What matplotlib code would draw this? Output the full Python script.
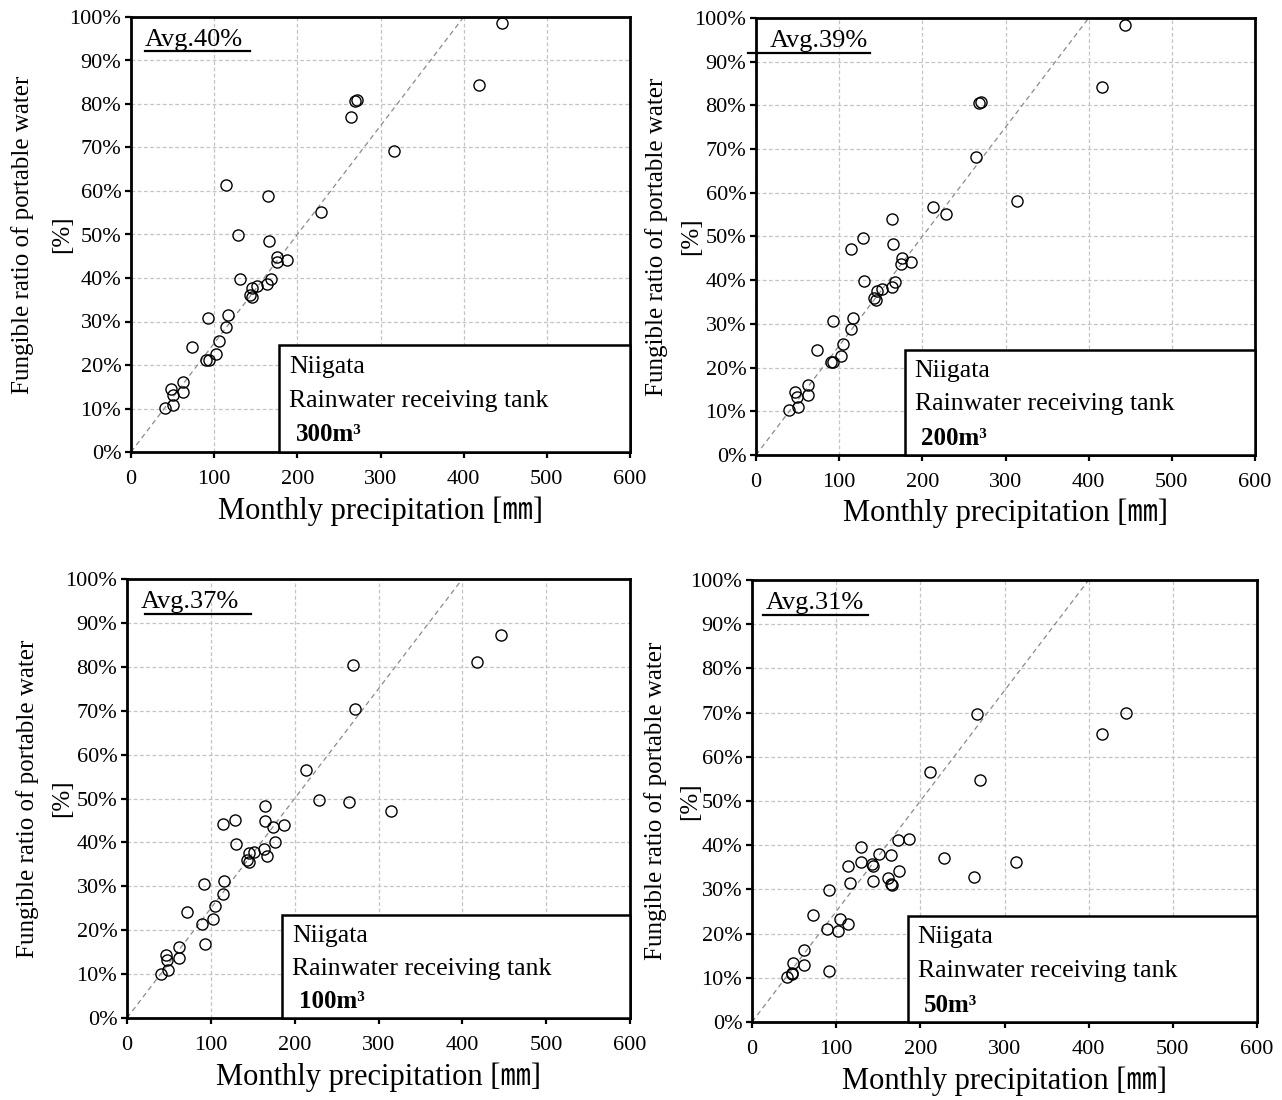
import matplotlib
matplotlib.use("Agg")
import matplotlib.pyplot as plt
from matplotlib.patches import Rectangle
from matplotlib.lines import Line2D
from matplotlib.ticker import FuncFormatter

plt.rcParams['font.family'] = ['Liberation Serif', 'Noto Sans CJK JP']

# Monthly precipitation [mm] and fungible ratio [%] for each tank size
precip_300 = [446, 418, 272, 269, 265, 316, 114, 165, 229, 129, 166, 176, 175, 187,
              131, 168, 164, 152, 146, 143, 146, 92, 117, 114, 106, 73, 102, 90, 94,
              63, 63, 48, 50, 50, 41]
ratio_300 = [98.6, 84.4, 81.0, 80.7, 77.0, 69.1, 61.4, 58.8, 55.2, 49.8, 48.5, 44.9, 43.7, 44.2,
             39.8, 39.7, 38.6, 38.1, 37.8, 36.2, 35.7, 30.7, 31.5, 28.8, 25.5, 24.2, 22.6, 21.2, 21.2,
             16.1, 13.8, 14.4, 13.1, 10.8, 10.1]

precip_200 = [264, 213, 229, 164, 129, 114, 165, 176, 174, 186, 130, 167, 163, 151, 145,
              142, 144, 92, 117, 114, 105, 73, 102, 90, 93, 62, 62, 47, 49, 50, 40,
              444, 416, 270, 268, 314]
ratio_200 = [68.1, 56.7, 55.1, 54.0, 49.7, 47.2, 48.3, 45.0, 43.7, 44.2, 39.8, 39.5, 38.5, 38.0, 37.6,
             36.0, 35.5, 30.6, 31.3, 28.9, 25.5, 24.1, 22.6, 21.2, 21.2, 16.1, 13.8, 14.4, 13.3, 10.9, 10.2,
             98.4, 84.1, 80.7, 80.5, 58.1]

precip_100 = [213, 229, 265, 165, 129, 114, 165, 174, 187, 130, 176, 163, 167, 151, 145,
              143, 145, 92, 116, 114, 105, 72, 102, 89, 93, 62, 62, 47, 48, 49, 40,
              446, 418, 269, 272, 315]
ratio_100 = [56.6, 49.6, 49.3, 48.2, 45.2, 44.2, 44.9, 43.6, 44.0, 39.7, 40.2, 38.6, 36.8, 37.9, 37.6,
             35.9, 35.5, 30.6, 31.3, 28.3, 25.5, 24.1, 22.6, 21.3, 16.8, 16.2, 13.7, 14.4, 13.3, 11.0, 10.1,
             87.3, 81.2, 80.5, 70.5, 47.2]

precip_50 = [212, 271, 174, 186, 130, 151, 165, 228, 114, 129, 142, 144, 175, 264, 144,
             162, 165, 166, 116, 92, 73, 105, 114, 89, 102, 62, 62, 49, 48, 47, 41, 92,
             267, 444, 416, 314]
ratio_50 = [56.6, 54.7, 41.2, 41.5, 39.7, 38.0, 37.8, 37.2, 35.3, 36.2, 35.7, 35.4, 34.1, 32.9, 31.9,
            32.5, 31.2, 30.9, 31.4, 29.8, 24.1, 23.4, 22.1, 21.1, 20.6, 16.3, 12.8, 13.4, 11.1, 10.8, 10.2, 11.6,
            69.7, 69.9, 65.1, 36.2]

tank_labels = ['300m³', '200m³', '100m³', '50m³']
avg_labels = ['Avg.40%', 'Avg.39%', 'Avg.37%', 'Avg.31%']
site_label = 'Niigata'
tank_title = 'Rainwater receiving tank'
x_title = 'Monthly precipitation [㎜]'
y_title = 'Fungible ratio of portable water'
y_unit = '[%]'
x_ticks = [0, 100, 200, 300, 400, 500, 600]
y_ticks = [0, 10, 20, 30, 40, 50, 60, 70, 80, 90, 100]

series = [(precip_300, ratio_300), (precip_200, ratio_200),
          (precip_100, ratio_100), (precip_50, ratio_50)]

W, H = 1282, 1100
fig = plt.figure(figsize=(W / 100, H / 100), dpi=100)

# panel frames in pixels: left, right, top, bottom
frames = [(131, 630, 17, 452), (756, 1255, 18, 455),
          (127, 630, 579, 1018), (752, 1257, 580, 1022)]
# label-box left edge / top edge in axes fraction
boxes = [(0.297, 0.245), (0.298, 0.241), (0.309, 0.234), (0.308, 0.240)]
# underline extents (axes fraction) for the average label
underlines = [(0.028, 0.238), (-0.016, 0.228), (0.036, 0.246), (0.022, 0.230)]
# horizontal pixel centres of the two y-title lines
ytitle_x = [(23, 62), (657, 691), (28, 62), (656, 690)]


def rect(l, r, t, b):
    return [l / W, 1 - b / H, (r - l) / W, (b - t) / H]


for i, ((x, y), (l, r, t, b)) in enumerate(zip(series, frames)):
    ax = fig.add_axes(rect(l, r, t, b))
    ax.set_xlim(0, 600)
    ax.set_ylim(0, 100)
    ax.set_xticks(x_ticks)
    ax.set_yticks(y_ticks)
    ax.yaxis.set_major_formatter(FuncFormatter(lambda v, p: f"{v:.0f}%"))
    ax.tick_params(axis='both', direction='out', length=4, width=1.6,
                   labelsize=16, colors='black')
    ax.tick_params(axis='y', pad=3)
    ax.tick_params(axis='x', pad=9)
    for s in ax.spines.values():
        s.set_linewidth(2.0)
        s.set_color('black')
    ax.grid(True, ls=(0, (3, 2)), color='#c4c4c4', lw=0.9)
    ax.set_axisbelow(True)

    # 1:4 reference line
    ax.plot([0, 400], [0, 100], ls=(0, (4, 3)), color='#8a8a8a', lw=0.9, zorder=2)

    ax.plot(x, y, 'o', mfc='none', mec='black', ms=8, mew=1.0, zorder=4, clip_on=False)

    bx, by = boxes[i]
    ax.add_patch(Rectangle((bx, 0), 1.0 - bx, by, transform=ax.transAxes,
                           facecolor='white', edgecolor='black', lw=1.8,
                           zorder=5, clip_on=False))
    ax.text(bx + 0.02, by * 0.80, site_label, transform=ax.transAxes,
            fontsize=18.5, va='center', ha='left', zorder=6)
    ax.text(bx + 0.02, by * 0.48, tank_title, transform=ax.transAxes,
            fontsize=18.5, va='center', ha='left', zorder=6)
    ax.text(bx + 0.033, by * 0.16, tank_labels[i], transform=ax.transAxes,
            fontsize=18, fontweight='bold', va='center', ha='left', zorder=6)

    ax.text(0.028, 0.948, avg_labels[i], transform=ax.transAxes,
            fontsize=19, va='center', ha='left', zorder=6)
    u0, u1 = underlines[i]
    ax.add_line(Line2D([u0, u1], [0.921, 0.921], transform=ax.transAxes,
                       color='black', lw=1.6, zorder=6, clip_on=False))

    ax.set_xlabel(x_title, fontsize=22, labelpad=5)

    cy = 1 - (t + b) / 2 / H
    x1, x2 = ytitle_x[i]
    fig.text(x1 / W, cy, y_title, rotation=90, fontsize=18,
             ha='center', va='center')
    fig.text(x2 / W, cy, y_unit, rotation=90, fontsize=18,
             ha='center', va='center')

fig.savefig('out.png', dpi=100)
